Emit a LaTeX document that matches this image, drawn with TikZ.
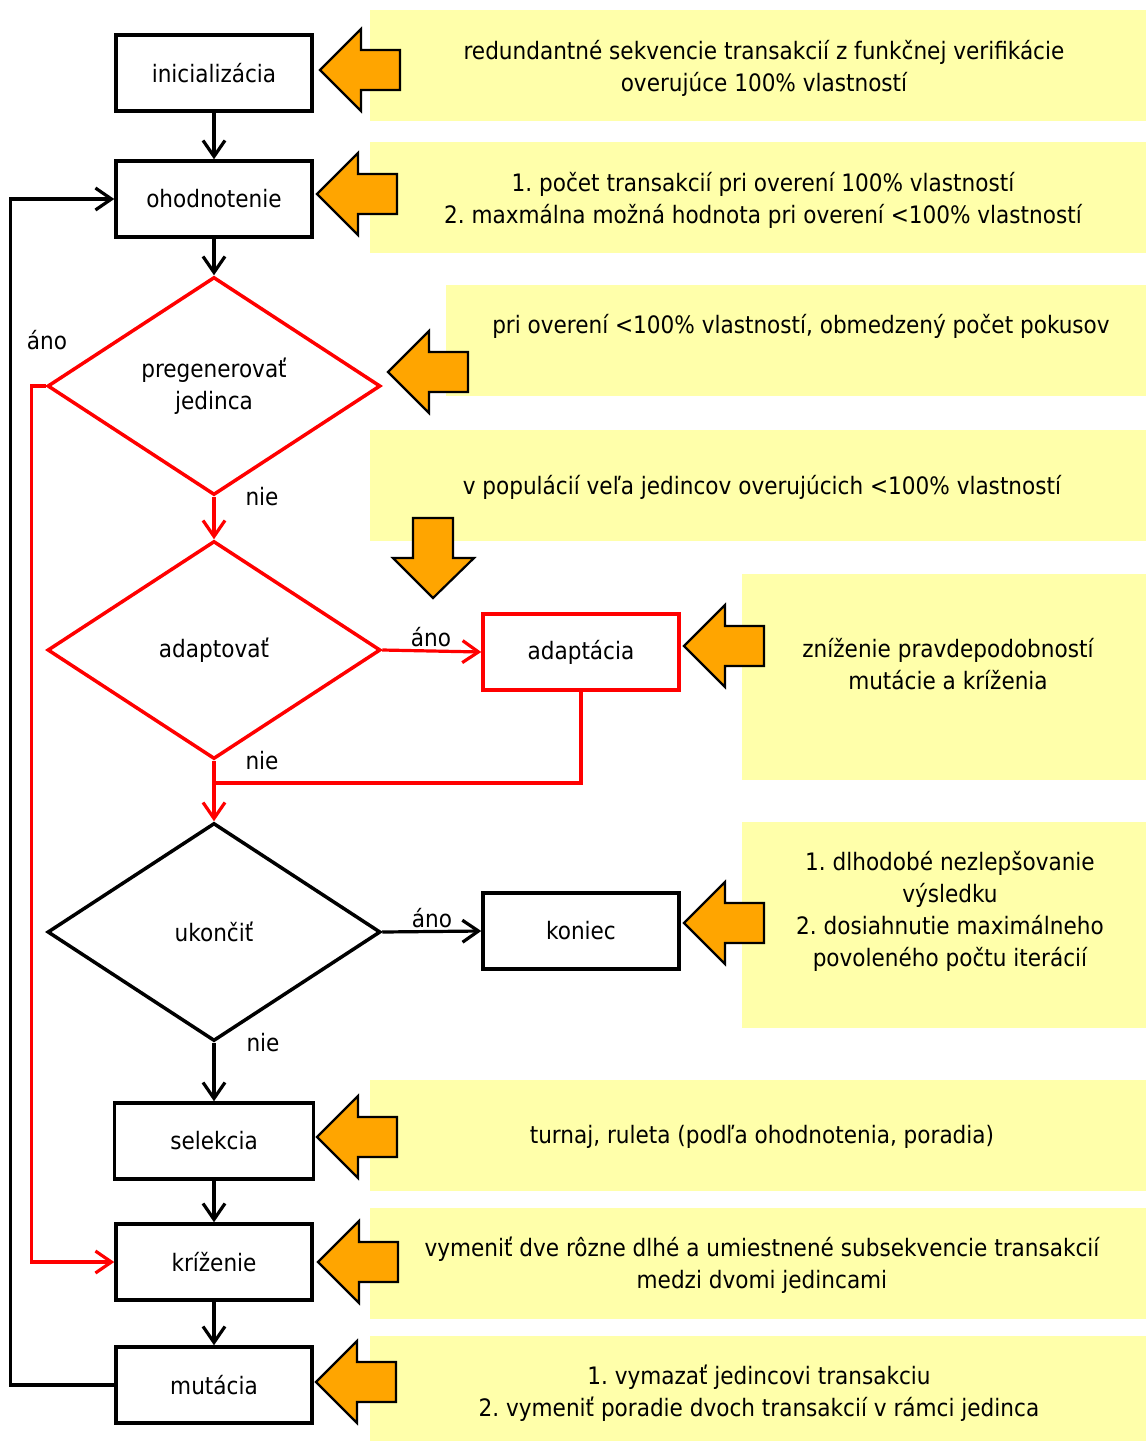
\documentclass[tikz,border=0pt]{standalone}
\usepackage{fontspec}
\IfFontExistsTF{DejaVu Sans Condensed}{\setmainfont{DejaVu Sans Condensed}}{\setmainfont{DejaVu Sans}}
\usetikzlibrary{arrows.meta,shapes.geometric}
\definecolor{noteyellow}{HTML}{FFFFAA}
\definecolor{arrorange}{HTML}{FFA500}
\frenchspacing
\begin{document}
\begin{tikzpicture}[x=1pt,y=-1pt,
  every node/.style={font=\fontsize{24}{32}\selectfont, inner sep=0pt, text=black},
  box/.style={draw=black, line width=3.5pt, fill=white, minimum width=196pt, minimum height=76pt},
  redbox/.style={box, draw=red},
  decision/.style={diamond, draw=black, line width=3.5pt, fill=white, minimum width=333pt, minimum height=218pt, align=center},
  reddecision/.style={decision, draw=red},
  note/.style={fill=noteyellow, draw=none, anchor=north west},
  notetext/.style={align=center},
  lbl/.style={},
  arr/.style={draw=black, line width=3.2pt, -{Straight Barb[length=16pt,width=22pt,line width=3.2pt]}},
  redarr/.style={arr, draw=red},
  redline/.style={draw=red, line width=3.2pt},
  orangearrow/.style={fill=arrorange, draw=black, line width=2.2pt, line join=miter},
  leftarr/.pic={\path[orangearrow] (0,0) -- (41,-41) -- (41,-20) -- (80,-20) -- (80,20) -- (41,20) -- (41,41) -- cycle;},
  downarr/.pic={\path[orangearrow] (0,0) -- (-40,-40) -- (-20,-40) -- (-20,-80) -- (20,-80) -- (20,-40) -- (41,-40) -- cycle;}
]
\useasboundingbox (0,0) rectangle (1146,1441);

% yellow notes
\node[note, minimum width=776pt, minimum height=111pt] (n1) at (370,10) {};
\node[note, minimum width=776pt, minimum height=111pt] (n2) at (370,142) {};
\node[note, minimum width=700pt, minimum height=111pt] (n3) at (446,285) {};
\node[note, minimum width=776pt, minimum height=111pt] (n4) at (370,430) {};
\node[note, minimum width=404pt, minimum height=206pt] (n5) at (742,574) {};
\node[note, minimum width=404pt, minimum height=206pt] (n6) at (742,822) {};
\node[note, minimum width=776pt, minimum height=111pt] (n7) at (370,1080) {};
\node[note, minimum width=776pt, minimum height=111pt] (n8) at (370,1208) {};
\node[note, minimum width=776pt, minimum height=106pt] (n9) at (370,1336) {};

\node[notetext] (t1) at (764,68) {redundantné sekvencie transakcií z funkčnej verifikácie\\overujúce 100\% vlastností};
\node[notetext] (t2) at (763,200) {1. počet transakcií pri overení 100\% vlastností\\2. maxmálna možná hodnota pri overení <100\% vlastností};
\node[notetext] (t3) at (801,326) {pri overení <100\% vlastností, obmedzený počet pokusov};
\node[notetext] (t4) at (762,487) {v populácií veľa jedincov overujúcich <100\% vlastností};
\node[notetext] (t5) at (948,664) {zníženie pravdepodobností\\mutácie a kríženia};
\node[notetext] (t6) at (950,911) {1. dlhodobé nezlepšovanie\\výsledku\\2. dosiahnutie maximálneho\\povoleného počtu iterácií};
\node[notetext] (t7) at (762,1137) {turnaj, ruleta (podľa ohodnotenia, poradia)};
\node[notetext] (t8) at (762,1265) {vymeniť dve rôzne dlhé a umiestnené subsekvencie transakcií\\medzi dvomi jedincami};
\node[notetext] (t9) at (759,1393) {1. vymazať jedincovi transakciu\\2. vymeniť poradie dvoch transakcií v rámci jedinca};

% orange arrows
\pic at (320,70) {leftarr};
\pic at (317,194) {leftarr};
\pic at (388,372) {leftarr};
\pic at (433,598) {downarr};
\pic at (684,646) {leftarr};
\pic at (684,923) {leftarr};
\pic at (317,1137) {leftarr};
\pic at (318,1262) {leftarr};
\pic at (316,1382) {leftarr};

% flow nodes
\node[box] (init) at (214,73) {inicializácia};
\node[box] (eval) at (214,199) {ohodnotenie};
\node[reddecision] (regen) at (214,386) {pregenerovať\\jedinca};
\node[reddecision] (adapt) at (214,650) {adaptovať};
\node[redbox] (adaptation) at (581,652) {adaptácia};
\node[decision] (stop) at (214,932) {ukončiť};
\node[box] (koniec) at (581,931) {koniec};
\node[box, minimum width=199pt] (sel) at (214,1141) {selekcia};
\node[box] (cross) at (214,1262) {kríženie};
\node[box] (mut) at (214,1385) {mutácia};
\coordinate (merge) at (214,783);

% labels
\node[lbl] (l1) at (47,340) {áno};
\node[lbl] (l2) at (262,497) {nie};
\node[lbl] (l3) at (431,637) {áno};
\node[lbl] (l4) at (262,761) {nie};
\node[lbl] (l5) at (432,918) {áno};
\node[lbl] (l6) at (263,1043) {nie};

% connectors
\draw[arr] (init) -- (eval);
\draw[arr] (eval) -- (regen.north);
\draw[redarr] (regen.south) -- (adapt.north);
\draw[redarr] (regen.west) -- ++(-14,0) |- (cross.west);
\draw[redarr] (adapt.east) -- (adaptation.west);
\draw[redarr] (adapt.south) -- (stop.north);
\draw[redline] (adaptation.south) |- (merge);
\draw[arr] (stop.east) -- (koniec.west);
\draw[arr] (stop.south) -- (sel.north);
\draw[arr] (sel) -- (cross);
\draw[arr] (cross) -- (mut);
\draw[arr] (mut.west) -- ++(-104,0) |- (eval.west);
\end{tikzpicture}
\end{document}
